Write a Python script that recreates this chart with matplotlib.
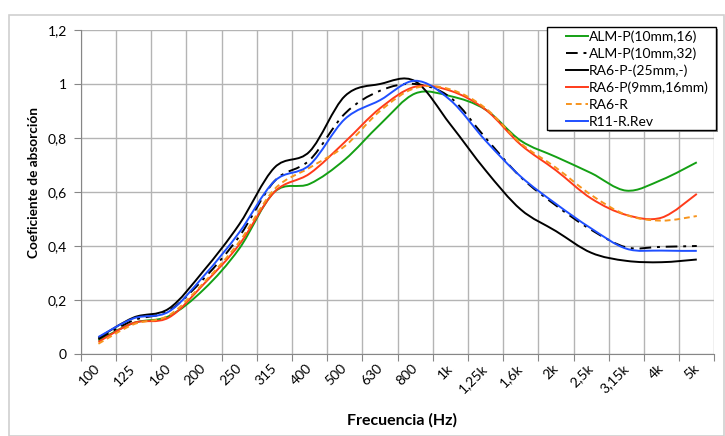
import numpy as np
import matplotlib
matplotlib.use("Agg")
import matplotlib.pyplot as plt
from matplotlib.path import Path
from matplotlib.patches import PathPatch, Rectangle
from matplotlib.lines import Line2D
from matplotlib.ticker import FixedLocator, FuncFormatter
import matplotlib.transforms as mtransforms

plt.rcParams['font.family'] = ['Lato', 'DejaVu Sans']

freqs = ['100', '125', '160', '200', '250', '315', '400', '500', '630', '800',
         '1k', '1,25k', '1,6k', '2k', '2,5k', '3,15k', '4k', '5k']

alm_p_16 = [0.05, 0.115, 0.14, 0.24, 0.39, 0.60, 0.63, 0.72, 0.85, 0.965,
            0.955, 0.905, 0.79, 0.73, 0.67, 0.605, 0.645, 0.71]
alm_p_32 = [0.055, 0.125, 0.16, 0.28, 0.435, 0.64, 0.718, 0.89, 0.975, 1.0,
            0.95, 0.80, 0.655, 0.55, 0.46, 0.395, 0.397, 0.40]
ra6_p_25 = [0.06, 0.135, 0.168, 0.31, 0.48, 0.69, 0.75, 0.955, 1.0, 1.01,
            0.85, 0.68, 0.535, 0.455, 0.375, 0.345, 0.34, 0.35]
ra6_p_9 = [0.045, 0.115, 0.135, 0.26, 0.405, 0.60, 0.668, 0.785, 0.91, 0.99,
           0.975, 0.905, 0.775, 0.68, 0.576, 0.515, 0.505, 0.593]
ra6_r = [0.038, 0.11, 0.143, 0.265, 0.415, 0.61, 0.69, 0.77, 0.9, 0.985,
         0.98, 0.91, 0.78, 0.69, 0.589, 0.515, 0.494, 0.511]
r11_rev = [0.063, 0.132, 0.157, 0.29, 0.45, 0.64, 0.70, 0.87, 0.94, 1.012,
           0.94, 0.79, 0.657, 0.556, 0.465, 0.39, 0.383, 0.382]

series = [
    ('ALM-P(10mm,16)', alm_p_16, '#14A014', '-'),
    ('ALM-P(10mm,32)', alm_p_32, '#000000', (0, (6, 3, 1.5, 3))),
    ('RA6-P-(25mm,-)', ra6_p_25, '#000000', '-'),
    ('RA6-P(9mm,16mm)', ra6_p_9, '#FF3B1A', '-'),
    ('RA6-R', ra6_r, '#F7941D', (0, (3, 2))),
    ('R11-R.Rev', r11_rev, '#1F4FFF', '-'),
]


def smooth_path(y):
    # Excel-style smoothed line drawn as cubic Bezier segments
    n = len(y)
    pts = np.column_stack([np.arange(n), np.asarray(y, float)])
    verts = [pts[0]]
    codes = [Path.MOVETO]
    for i in range(n - 1):
        p0 = pts[max(i - 1, 0)]
        p1 = pts[i]
        p2 = pts[i + 1]
        p3 = pts[min(i + 2, n - 1)]
        c1 = p1 + (p2 - p0) / 6.0
        c2 = p2 - (p3 - p1) / 6.0
        verts += [c1, c2, p2]
        codes += [Path.CURVE4] * 3
    return Path(verts, codes)


fig = plt.figure(figsize=(7.25, 4.36), dpi=100)
fig.patches.append(Rectangle((9 / 725, 0.0), 715 / 725, 421 / 436,
                             transform=fig.transFigure, fill=False,
                             edgecolor='#D0D0D0', lw=1.2))
ax = fig.add_axes([80.8 / 725, 82 / 436, 633.6 / 725, 324 / 436])

handles = []
for name, vals, col, ls in series:
    patch = PathPatch(smooth_path(vals), fill=False, edgecolor=col,
                      linestyle=ls, lw=1.4, zorder=3)
    ax.add_patch(patch)
    handles.append(Line2D([], [], color=col, linestyle=ls, lw=1.4, label=name))

ax.set_xlim(-0.5, len(freqs) - 0.5)
ax.set_ylim(0, 1.2)

ax.xaxis.set_major_locator(FixedLocator(np.arange(len(freqs) + 1) - 0.5))
ax.set_xticklabels([], minor=False)
ax.set_xticks(np.arange(len(freqs)), freqs, minor=True, rotation=45,
              ha='right', va='center', rotation_mode='anchor', fontsize=10)
ax.tick_params(axis='x', which='minor', length=0, pad=9)
ax.tick_params(axis='x', which='major', length=5, color='#868686')

ax.set_yticks(np.arange(0, 1.21, 0.2))
ax.yaxis.set_major_formatter(FuncFormatter(
    lambda v, p: '0' if abs(v) < 1e-9 else ('%g' % round(v, 1)).replace('.', ',')))
ax.tick_params(axis='y', length=5, color='#868686', labelsize=10, pad=5)

ax.grid(True, which='major', color='#B4B4B4', lw=1)
ax.set_axisbelow(True)
for s in ['top', 'right']:
    ax.spines[s].set_visible(False)
for s in ['left', 'bottom']:
    ax.spines[s].set_color('#868686')

ax.set_xlabel('Frecuencia (Hz)', fontsize=11.5, fontweight='bold')
ax.xaxis.set_label_coords(0.507, -0.183)
ax.set_ylabel('Coeficiente de absorción', fontsize=9.8, fontweight='bold')
ax.yaxis.set_label_coords(-0.064, 0.529)

# legend box (frame drawn separately so the padding matches the original)
fx0, fx1 = 0.7358, 1.0025
fy0, fy1 = 0.6914, 1.0093
shadow = Rectangle((fx0, fy0), fx1 - fx0, fy1 - fy0, transform=ax.transAxes
                   + mtransforms.ScaledTranslation(2 / 100, -2 / 100, fig.dpi_scale_trans),
                   facecolor='#8C8C8C', edgecolor='none', clip_on=False, zorder=4)
frame = Rectangle((fx0, fy0), fx1 - fx0, fy1 - fy0, transform=ax.transAxes,
                  facecolor='white', edgecolor='black', lw=1.0, clip_on=False,
                  zorder=4.5)
ax.add_patch(shadow)
ax.add_patch(frame)

leg = ax.legend(handles=handles, loc='upper left', bbox_to_anchor=(0.7658, 1.0),
                borderaxespad=0, borderpad=0, frameon=False, fontsize=10,
                handlelength=1.55, handletextpad=0.1, labelspacing=0.34)
leg.set_zorder(5)

fig.savefig('out.png', dpi=100)
